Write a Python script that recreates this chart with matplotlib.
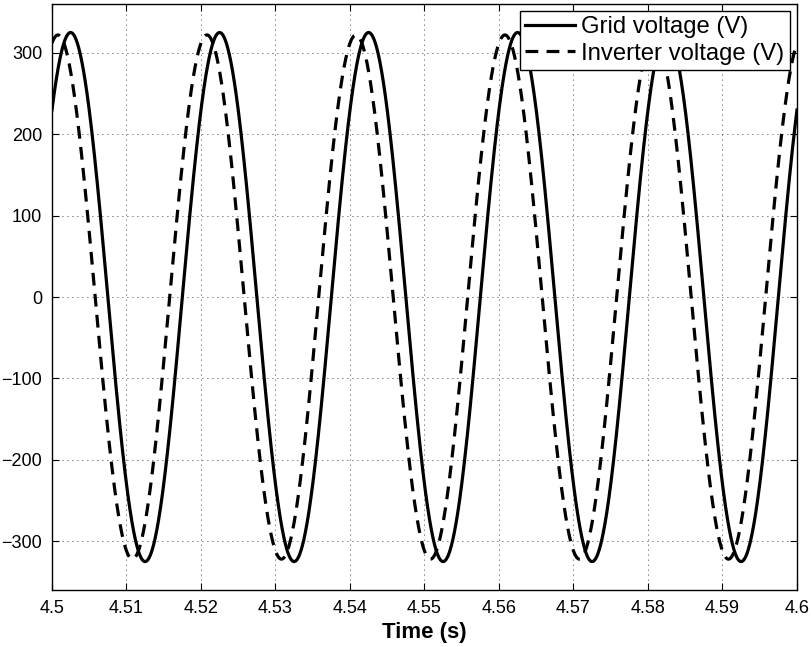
import matplotlib.pyplot as plt
import numpy as np

plt.rcParams['font.family'] = ['Liberation Sans', 'DejaVu Sans']

# values
t_start, t_end = 4.5, 4.6
freq = 50.0                      # Hz
grid_amp = 325.0                 # V
grid_phase_deg = 45.0            # at t = 4.5 s
inv_amp = 322.0                  # V
inv_phase_deg = 75.6             # leads the grid by ~1.7 ms
x_ticks = [4.5, 4.51, 4.52, 4.53, 4.54, 4.55, 4.56, 4.57, 4.58, 4.59, 4.6]
x_tick_labels = ['4.5', '4.51', '4.52', '4.53', '4.54', '4.55', '4.56', '4.57', '4.58', '4.59', '4.6']
y_ticks = [-300, -200, -100, 0, 100, 200, 300]

t = np.linspace(t_start, t_end, 3001)
w = 2 * np.pi * freq
grid_v = grid_amp * np.sin(w * (t - t_start) + np.deg2rad(grid_phase_deg))
inv_v = inv_amp * np.sin(w * (t - t_start) + np.deg2rad(inv_phase_deg))

fig = plt.figure(figsize=(8.12, 6.47), dpi=100)
ax = fig.add_axes([0.064, 0.088, 0.9175, 0.9058])

ax.plot(t, grid_v, color='black', lw=2.3, label='Grid voltage (V)')
ax.plot(t, inv_v, color='black', lw=2.3, ls=(0, (4, 2.6)), label='Inverter voltage (V)')

ax.set_xlim(t_start, t_end)
ax.set_ylim(-360, 360)
ax.set_xticks(x_ticks)
ax.set_xticklabels(x_tick_labels)
ax.set_yticks(y_ticks)
ax.tick_params(direction='in', length=5, width=0.8, top=True, right=True,
               labelsize=13, pad=7)
ax.grid(True, color='black', ls=(0, (1, 5)), lw=0.6)
for s in ax.spines.values():
    s.set_linewidth(1.0)

ax.set_xlabel('Time (s)', fontsize=16, fontweight='bold', labelpad=4)

leg = ax.legend(loc='upper right', fontsize=17.2, handlelength=2.1,
                borderaxespad=0.3, borderpad=0.22, labelspacing=0.18,
                handletextpad=0.25, fancybox=False, framealpha=1)
leg.get_frame().set_edgecolor('black')
leg.get_frame().set_linewidth(1.0)

fig.savefig('out.png', dpi=100)
